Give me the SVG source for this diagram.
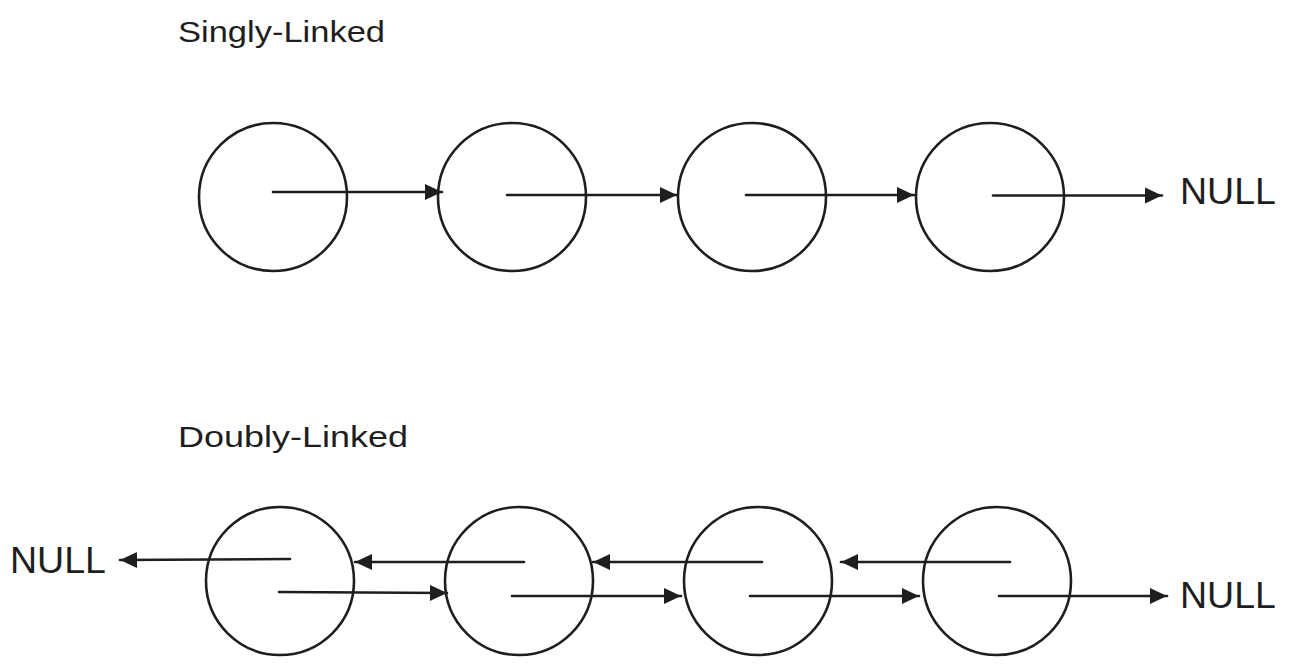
<svg xmlns="http://www.w3.org/2000/svg" width="1289" height="665" viewBox="0 0 1289 665">
<style>
.node{fill:none;stroke:#1e1e1e;stroke-width:2.6}
.conn{fill:none;stroke:#1e1e1e;stroke-width:2.6;stroke-linecap:round;marker-end:url(#ah)}
.title{font-family:"Liberation Sans","DejaVu Sans",sans-serif;font-size:30px;fill:#1e1e1e}
.null{font-family:"Liberation Sans",Arial,sans-serif;font-size:37.5px;fill:#1e1e1e}
</style>
<defs>
<marker id="ah" markerUnits="userSpaceOnUse" markerWidth="22" markerHeight="20" refX="17" refY="8" orient="auto" overflow="visible">
<path d="M0,0 L17,8 L0,16 Z" fill="#1e1e1e"/>
</marker>
</defs>
<rect width="1289" height="665" fill="#ffffff"/>
<g id="title-singly"><text class="title" x="178" y="42" textLength="207" lengthAdjust="spacingAndGlyphs">Singly-Linked</text></g>
<g id="title-doubly"><text class="title" x="178" y="447" textLength="230" lengthAdjust="spacingAndGlyphs">Doubly-Linked</text></g>
<g id="s1"><circle class="node" cx="273" cy="197" r="74"/></g>
<g id="s2"><circle class="node" cx="512" cy="197" r="74"/></g>
<g id="s3"><circle class="node" cx="752" cy="197" r="74"/></g>
<g id="s4"><circle class="node" cx="990" cy="197" r="74"/></g>
<g id="s-null"><text class="null" x="1180" y="204">NULL</text></g>
<g id="d1"><circle class="node" cx="280" cy="581" r="74"/></g>
<g id="d2"><circle class="node" cx="519" cy="581" r="74"/></g>
<g id="d3"><circle class="node" cx="758" cy="581" r="74"/></g>
<g id="d4"><circle class="node" cx="997" cy="581" r="74"/></g>
<g id="d-null-left"><text class="null" x="10" y="573">NULL</text></g>
<g id="d-null-right"><text class="null" x="1180" y="608">NULL</text></g>
<g id="connectors">
<line class="conn" x1="273" y1="192" x2="442" y2="192"/>
<line class="conn" x1="507" y1="195" x2="677" y2="195"/>
<line class="conn" x1="746" y1="195" x2="914" y2="195"/>
<line class="conn" x1="993" y1="195.5" x2="1162" y2="195.5"/>
<line class="conn" x1="290" y1="559" x2="120" y2="560"/>
<line class="conn" x1="524" y1="562" x2="355" y2="562"/>
<line class="conn" x1="762" y1="562" x2="593" y2="562"/>
<line class="conn" x1="1010" y1="562" x2="841" y2="562"/>
<line class="conn" x1="279" y1="592" x2="447" y2="593"/>
<line class="conn" x1="512" y1="596" x2="681" y2="596"/>
<line class="conn" x1="750" y1="596" x2="919" y2="596"/>
<line class="conn" x1="999" y1="596" x2="1167" y2="596"/>
</g>
</svg>
